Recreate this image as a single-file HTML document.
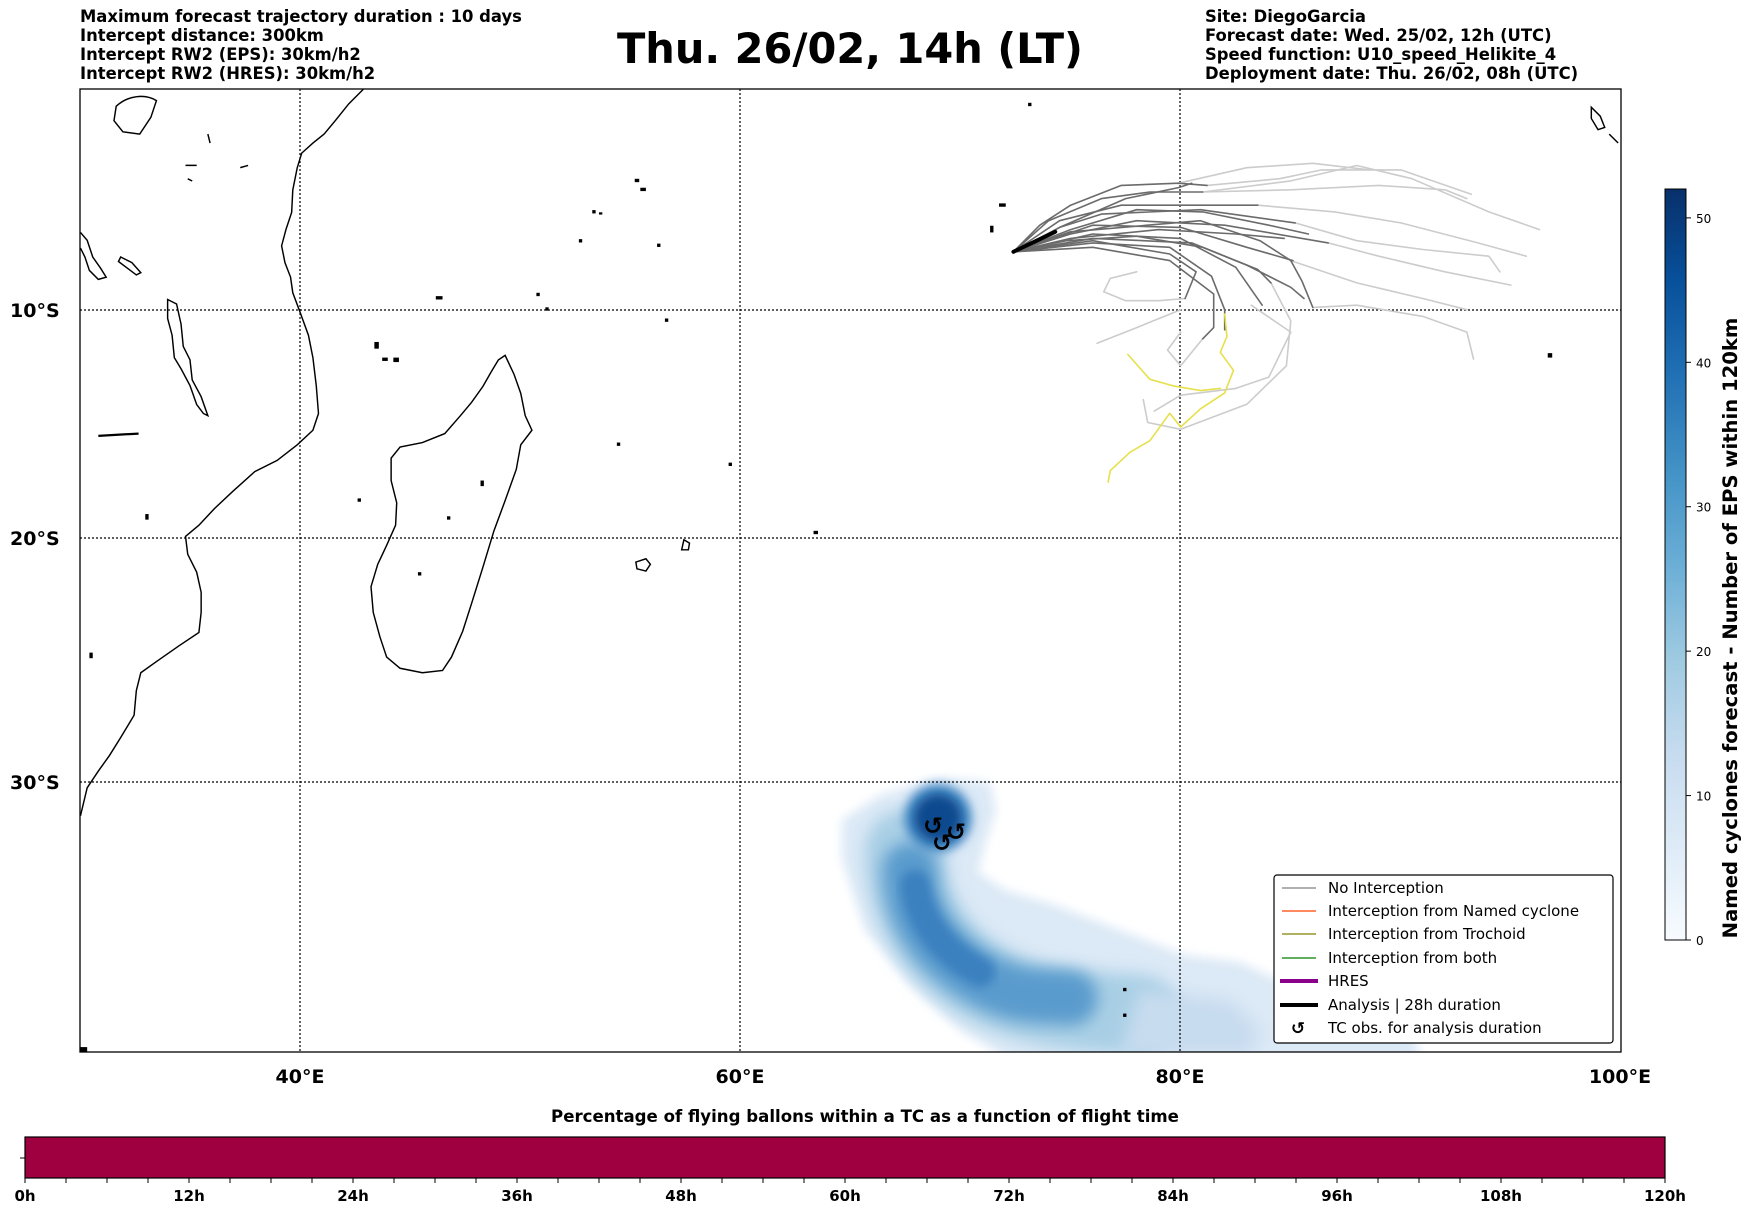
<!DOCTYPE html>
<html><head><meta charset="utf-8">
<style>
html,body{margin:0;padding:0;background:#fff;}
body{width:1752px;height:1213px;position:relative;overflow:hidden;font-family:"DejaVu Sans","Liberation Sans",sans-serif;}
svg{position:absolute;left:0;top:0;font-family:"DejaVu Sans","Liberation Sans",sans-serif;}
</style></head>
<body>
<svg id="chart" width="1752" height="1213" viewBox="0 0 1752 1213" xmlns="http://www.w3.org/2000/svg">
<defs>
<filter id="blur8" x="-30%" y="-30%" width="160%" height="160%"><feGaussianBlur stdDeviation="8"/></filter>
<filter id="blur5" x="-30%" y="-30%" width="160%" height="160%"><feGaussianBlur stdDeviation="5"/></filter>
<clipPath id="mapclip"><rect x="80" y="89" width="1541" height="963"/></clipPath>
<linearGradient id="blues" x1="0" y1="1" x2="0" y2="0">
<stop offset="0" stop-color="#f7fbff"/><stop offset="0.125" stop-color="#deebf7"/><stop offset="0.25" stop-color="#c6dbef"/><stop offset="0.375" stop-color="#9ecae1"/><stop offset="0.5" stop-color="#6baed6"/><stop offset="0.625" stop-color="#4292c6"/><stop offset="0.75" stop-color="#2171b5"/><stop offset="0.875" stop-color="#08519c"/><stop offset="1" stop-color="#08306b"/>
</linearGradient>
</defs>

<g font-size="16.4" font-weight="bold" fill="#000">
<text x="80" y="22">Maximum forecast trajectory duration : 10 days</text>
<text x="80" y="41">Intercept distance: 300km</text>
<text x="80" y="60">Intercept RW2 (EPS):  30km/h2</text>
<text x="80" y="79">Intercept RW2 (HRES): 30km/h2</text>
</g>
<text x="850" y="63" text-anchor="middle" font-size="41.5" font-weight="bold">Thu. 26/02, 14h (LT)</text>
<g font-size="16.4" font-weight="bold" fill="#000">
<text x="1205" y="22">Site: DiegoGarcia</text>
<text x="1205" y="41">Forecast date: Wed. 25/02, 12h (UTC)</text>
<text x="1205" y="60">Speed function: U10_speed_Helikite_4</text>
<text x="1205" y="79">Deployment date: Thu. 26/02, 08h (UTC)</text>
</g>

<g clip-path="url(#mapclip)">
<g>
<path filter="url(#blur5)" fill="#dce9f6" d="M940,778 L990,782 L996,810 L985,845 L978,872 L1005,890 L1055,905 L1125,932 L1185,955 L1240,962 L1290,985 L1330,990 L1380,985 L1410,1010 L1420,1060 L1010,1060 L960,1030 L910,985 L865,930 L842,860 L842,820 L880,795 Z"/>
<path filter="url(#blur8)" fill="none" stroke="#a9cfe5" stroke-width="80" stroke-linecap="round" d="M905,850 C905,900 930,950 980,980 S1080,1010 1140,1015"/>
<path filter="url(#blur8)" fill="none" stroke="#5a9bcd" stroke-width="55" stroke-linecap="round" d="M910,870 C910,915 935,950 975,975 S1040,995 1070,998"/>
<path filter="url(#blur5)" fill="none" stroke="#3a80bf" stroke-width="30" stroke-linecap="round" d="M915,885 C920,920 940,950 980,972"/>
<path filter="url(#blur8)" fill="#c8dcef" d="M1140,990 L1230,1000 L1260,1030 L1250,1055 L1120,1055 Z"/>
<circle filter="url(#blur5)" cx="938" cy="818" r="34" fill="#4a8cc6"/>
<circle filter="url(#blur5)" cx="938" cy="818" r="24" fill="#0d4a8e"/>
</g>

<g stroke="#000" stroke-width="1.2" stroke-dasharray="2,2">
<line x1="300" y1="89" x2="300" y2="1052"/><line x1="740" y1="89" x2="740" y2="1052"/><line x1="1180" y1="89" x2="1180" y2="1052"/>
<line x1="80" y1="310" x2="1621" y2="310"/><line x1="80" y1="538" x2="1621" y2="538"/><line x1="80" y1="782" x2="1621" y2="782"/>
</g>

<g transform="scale(1.1175)" fill="none" stroke="#000" stroke-width="1.3">
<path d="M325,80 L312,93 L300,108 L290,120 L280,128 L270,137 L266,150 L262,170 L261,190 L256,205 L252,220 L255,235 L260,248 L262,262 L268,278 L276,300 L280,320 L283,345 L285,370 L280,385 L266,398 L248,412 L228,422 L208,440 L192,455 L178,470 L166,480 L168,496 L176,512 L180,530 L180,548 L178,566 L160,578 L140,592 L126,602 L122,618 L120,640 L108,660 L98,676 L88,690 L78,705 L72,730"/>
<path d="M452,318 L460,335 L466,352 L470,372 L476,385 L466,398 L462,420 L452,448 L442,475 L432,508 L422,540 L414,565 L404,588 L396,600 L378,602 L358,598 L346,588 L340,570 L334,548 L332,525 L338,505 L346,488 L354,470 L355,450 L350,430 L350,410 L358,400 L378,396 L398,388 L412,372 L422,360 L432,346 L440,332 L446,322 Z"/>
<path d="M150,268 L158,272 L162,290 L164,310 L170,322 L172,340 L180,355 L186,372 L182,370 L176,362 L170,345 L162,330 L156,320 L154,300 L150,285 Z"/>
<path d="M72,208 L78,215 L83,230 L90,240 L95,248 L88,250 L80,242 L76,230 L72,222"/>
<path d="M108,230 L118,235 L126,244 L122,246 L114,240 L106,234 Z"/>
<path d="M88,390 L124,388" stroke-width="2"/>
<path d="M104,95 C115,85 130,84 140,90 L135,105 L125,120 L110,118 L102,108 Z"/>
<path d="M578,500 L582,505 L578,511 L570,509 L569,503 Z"/>
<path d="M612,483 L617,486 L616,492 L610,492 Z"/>
<path d="M1424,96 L1432,104 L1436,114 L1430,116 L1424,106 Z"/>
<path d="M1440,120 L1448,128"/>
<path d="M166,148 L176,148 M168,160 L172,162 M215,150 L222,148 M186,120 L188,128"/>
</g>
<g fill="#000" transform="scale(1.1175)">
<rect x="568" y="160" width="4" height="3"/><rect x="573" y="168" width="5" height="3"/><rect x="530" y="188" width="3" height="3"/><rect x="536" y="190" width="3" height="2"/><rect x="518" y="214" width="3" height="3"/><rect x="588" y="218" width="3" height="3"/>
<rect x="390" y="265" width="6" height="3"/><rect x="480" y="262" width="3" height="3"/><rect x="488" y="275" width="3" height="3"/><rect x="595" y="285" width="3" height="3"/>
<rect x="335" y="306" width="4" height="6"/><rect x="342" y="320" width="5" height="3"/><rect x="352" y="320" width="5" height="4"/>
<rect x="894" y="182" width="6" height="3"/><rect x="886" y="202" width="3" height="6"/><rect x="920" y="92" width="3" height="3"/>
<rect x="552" y="396" width="3" height="3"/><rect x="652" y="414" width="3" height="3"/><rect x="430" y="430" width="3" height="5"/><rect x="320" y="446" width="3" height="3"/><rect x="400" y="462" width="3" height="3"/><rect x="374" y="512" width="3" height="3"/><rect x="728" y="475" width="4" height="3"/><rect x="130" y="460" width="3" height="5"/>
<rect x="1385" y="316" width="4" height="4"/><rect x="1005" y="884" width="3" height="3"/><rect x="1005" y="907" width="3" height="3"/><rect x="80" y="584" width="3" height="5"/><rect x="72" y="937" width="6" height="4"/>
</g>

<g id="tracks"></g>

<g font-size="24" font-weight="bold" text-anchor="middle" fill="#000">
<text x="933" y="834">↺</text><text x="956" y="840">↺</text><text x="942" y="851">↺</text>
</g>
</g>

<rect x="80" y="89" width="1541" height="963" fill="none" stroke="#000" stroke-width="1.3"/>

<g font-size="19" font-weight="bold" fill="#000">
<text x="10" y="317">10°S</text><text x="10" y="545">20°S</text><text x="10" y="789">30°S</text>
</g>
<g font-size="19" font-weight="bold" fill="#000" text-anchor="middle">
<text x="300" y="1083">40°E</text><text x="740" y="1083">60°E</text><text x="1180" y="1083">80°E</text><text x="1620" y="1083">100°E</text>
</g>

<g font-size="15" fill="#000">
<rect x="1274" y="875" width="339" height="168" rx="3" fill="#fff" stroke="#000" stroke-width="1.2"/>
<g><line x1="1282" y1="888" x2="1316" y2="888" stroke="#808080" stroke-width="1.3"/><text x="1328" y="893">No Interception</text></g>
<g><line x1="1282" y1="911" x2="1316" y2="911" stroke="#ff4500" stroke-width="1.3"/><text x="1328" y="916">Interception from Named cyclone</text></g>
<g><line x1="1282" y1="934" x2="1316" y2="934" stroke="#808000" stroke-width="1.3"/><text x="1328" y="939">Interception from Trochoid</text></g>
<g><line x1="1282" y1="958" x2="1316" y2="958" stroke="#008000" stroke-width="1.3"/><text x="1328" y="963">Interception from both</text></g>
<g><line x1="1280" y1="981" x2="1318" y2="981" stroke="#8b008b" stroke-width="4"/><text x="1328" y="986">HRES</text></g>
<g><line x1="1280" y1="1005" x2="1318" y2="1005" stroke="#000" stroke-width="4"/><text x="1328" y="1010">Analysis | 28h duration</text></g>
<g><text x="1298" y="1034" text-anchor="middle" font-weight="bold" font-size="17">↺</text><text x="1328" y="1033">TC obs. for analysis duration</text></g>
</g>

<g>
<rect x="1665" y="189" width="21" height="751" fill="url(#blues)" stroke="#000" stroke-width="1"/>
<g id="cbticks" font-size="12" fill="#000"></g>
<text transform="translate(1737,628) rotate(-90)" text-anchor="middle" font-size="19.6" font-weight="bold">Named cyclones forecast - Number of EPS within 120km</text>
</g>

<text x="865" y="1122" text-anchor="middle" font-size="16.6" font-weight="bold">Percentage of flying ballons within a TC as a function of flight time</text>
<g>
<rect x="25" y="1137" width="1640" height="41" fill="#9e0040" stroke="#000" stroke-width="1.2"/>
<line x1="20" y1="1158" x2="25" y2="1158" stroke="#000"/>
<g id="hticks" font-size="15" font-weight="bold" fill="#000" text-anchor="middle"></g>
</g>
</svg>
<script>
const darkTracks = [
 [[72.4,-7.4],[73.6,-6.2],[75,-5.3],[77.3,-4.4],[79.9,-4.3],[81.2,-4.4]],
 [[72.4,-7.4],[74,-6],[76.4,-5],[78.6,-4.7],[81,-4.7]],
 [[72.4,-7.4],[74.5,-6],[77.3,-5.3],[80.9,-5.3],[83.5,-5.3]],
 [[72.4,-7.4],[74.5,-6.3],[76.4,-5.7],[80.9,-5.5],[85.2,-6.1]],
 [[72.4,-7.4],[75,-6.6],[78,-6],[82,-6.2],[86.7,-7]],
 [[72.4,-7.4],[75,-6.8],[79,-6.4],[82.5,-6.6],[84.7,-6.8]],
 [[72.4,-7.4],[75,-6.5],[80.9,-6],[83.6,-6.9],[85,-7.8],[85.5,-8.7],[86,-9.9]],
 [[72.4,-7.4],[76,-6.2],[80,-6.3],[83,-7.2],[85.1,-7.8]],
 [[72.4,-7.4],[76,-6.6],[80,-6.8],[82.5,-8.1],[83.7,-9.8]],
 [[72.4,-7.4],[76,-6.8],[80.5,-7],[83.5,-8.2],[84.1,-8.8]],
 [[72.4,-7.4],[76,-7],[79.5,-7.2],[81.4,-8.5],[82,-10],[82,-10.9]],
 [[72.4,-7.4],[76,-6.9],[79.5,-7.5],[80.7,-8.3],[80.2,-9.5]],
 [[72.4,-7.4],[76,-7.2],[79.5,-7.8],[81.5,-9.3],[81.5,-10.8],[81,-11.3]],
 [[72.4,-7.4],[73.6,-6.8],[74.5,-6.3],[77.5,-5],[79.9,-4.5],[80.5,-4.3]],
 [[72.4,-7.4],[75,-6.4],[78,-5.5],[81,-5.6],[84,-6.2],[85.8,-6.6]],
 [[72.4,-7.4],[74.8,-6.9],[78,-6.7],[81,-7.2],[83,-8],[85,-9],[85.6,-9.5]]
];
const lightTracks = [
 [[81.2,-4.4],[84.5,-4.1],[86.4,-3.7],[90,-3.7],[93.2,-4.8]],
 [[81,-4.7],[85,-4.2],[88,-3.5],[90.5,-4.1],[94,-5.6],[96.3,-6.4]],
 [[83.5,-5.3],[87,-5.6],[90,-6.1],[93.5,-7],[95.7,-7.6]],
 [[85.2,-6.1],[88,-6.9],[91,-7.3],[94,-7.6],[94.5,-8.3]],
 [[86.7,-7],[89,-7.6],[92,-8.3],[95,-8.9]],
 [[86,-9.9],[88,-9.8],[91,-10.3],[93,-11],[93.3,-12.2]],
 [[85,-7.8],[88,-8.8],[91,-9.5],[93,-10]],
 [[80.2,-9.5],[79,-9.6],[77.5,-9.6],[76.5,-9.2],[76.8,-8.6],[78,-8.3]],
 [[80,-10],[78,-10.8],[76.2,-11.5]],
 [[84.1,-8.8],[85,-10.5],[84.8,-12.5],[83,-14.2],[80,-15.3],[78.5,-15],[78.3,-14]],
 [[83.2,-9.8],[85,-11],[84,-13],[82.5,-13.5],[80,-13.8],[78.8,-14.5]],
 [[81,-4.7],[85,-4.6],[89,-4.4],[92,-4.6],[93,-5]],
 [[79.9,-4.3],[83,-3.6],[86,-3.4],[88.6,-3.7]],
 [[81,-11.3],[80,-12.5],[79.4,-11.8],[80,-11]]
];
const yellowTrack = [[82,-10.2],[82.1,-11.2],[81.8,-11.9],[82.4,-12.7],[82,-13.7],[80.9,-14.4],[80,-15.2],[79.5,-14.6],[78.6,-15.8],[77.7,-16.3],[76.8,-17.1],[76.7,-17.6]];
const yellowBranch = [[77.6,-12],[78.6,-13.1],[79.7,-13.4],[80.9,-13.6],[81.8,-13.5]];
const analysisTrack = [[72.4,-7.4],[74.3,-6.5]];
const cbTicks = [0,10,20,30,40,50];
const cbMax = 52;
const hourTicks = ["0h","12h","24h","36h","48h","60h","72h","84h","96h","108h","120h"];
const hourMax = 120;

const lon0=30, lon1=100, mx0=80, mx1=1621;
const pxPerDeg=(mx1-mx0)/(lon1-lon0);
function xLon(lon){return mx0+(lon-lon0)*pxPerDeg;}
function yLat(lat){const r=-lat*Math.PI/180;return 88.4+pxPerDeg*180/Math.PI*Math.log(Math.tan(Math.PI/4+r/2));}
const NS="http://www.w3.org/2000/svg";
const g=document.getElementById('tracks');
function drawTrack(tr,color,w,name){
 const p=document.createElementNS(NS,'polyline');
 p.setAttribute('points',tr.map(d=>xLon(d[0]).toFixed(1)+','+yLat(d[1]).toFixed(1)).join(' '));
 p.setAttribute('fill','none');p.setAttribute('stroke',color);p.setAttribute('stroke-width',w);
 p.setAttribute('stroke-linejoin','round');p.setAttribute('stroke-linecap','round');
 
 
 g.appendChild(p);
}
lightTracks.forEach(t=>drawTrack(t,'#cccccc',1.6,'light-trajectory'));
darkTracks.forEach(t=>drawTrack(t,'#6b6b6b',1.6,'no-interception-trajectory'));
drawTrack(yellowTrack,'#e6e04a',1.6,'yellow-trajectory');
drawTrack(yellowBranch,'#e6e04a',1.6,'yellow-trajectory-branch');
drawTrack(analysisTrack,'#000',4,'analysis-trajectory');

const cb=document.getElementById('cbticks');
const cbTop=189, cbBot=940;
cbTicks.forEach(v=>{
 const y=cbBot-(v/cbMax)*(cbBot-cbTop);
 const l=document.createElementNS(NS,'line');
 l.setAttribute('x1',1686);l.setAttribute('x2',1691);l.setAttribute('y1',y);l.setAttribute('y2',y);l.setAttribute('stroke','#000');
 
 
 cb.appendChild(l);
 const t=document.createElementNS(NS,'text');
 t.setAttribute('x',1696);t.setAttribute('y',y+5);t.textContent=v;
 
 
 cb.appendChild(t);
});
const hg=document.getElementById('hticks');
const hx0=25,hx1=1665;
for(let h=0;h<=hourMax;h+=3){
 const x=hx0+h/hourMax*(hx1-hx0);
 const l=document.createElementNS(NS,'line');
 l.setAttribute('x1',x);l.setAttribute('x2',x);l.setAttribute('y1',1178);l.setAttribute('y2',1183);l.setAttribute('stroke','#000');
 
 
 hg.appendChild(l);
}
hourTicks.forEach((lab,i)=>{
 const x=hx0+(i*12)/hourMax*(hx1-hx0);
 const t=document.createElementNS(NS,'text');
 t.setAttribute('x',x);t.setAttribute('y',1201);t.textContent=lab;
 
 
 hg.appendChild(t);
});
</script>
</body></html>
